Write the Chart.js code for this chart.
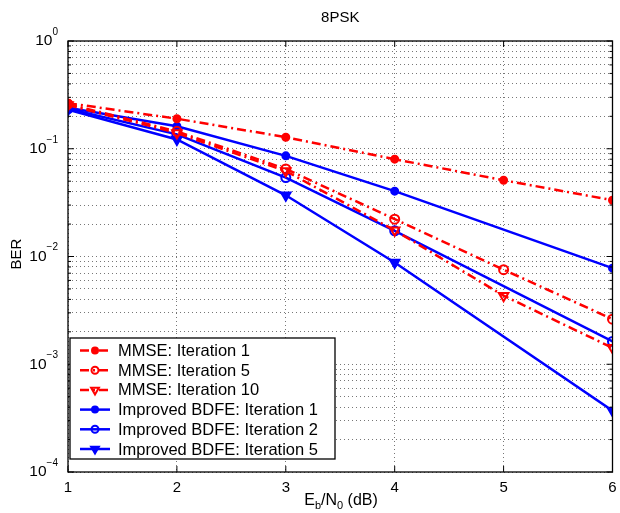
<!DOCTYPE html>
<html><head><meta charset="utf-8">
<script src="https://cdn.jsdelivr.net/npm/chart.js@4"></script>
<style>html,body{margin:0;padding:0;background:#fff}#wrap{width:620px;height:513px}</style>
</head><body><div id="wrap"><canvas id="c" width="620" height="513"></canvas></div>
<script>
const titleText = '8PSK';
const yLabelText = 'BER';
const xTicks = [1, 2, 3, 4, 5, 6];
const yDecades = [-4, -3, -2, -1, 0];
const xMMSE = [1, 2, 3, 4, 5, 6];
const xBDFE = [1, 2, 3, 4, 6];
const mmse1 = [0.265, 0.19, 0.128, 0.080, 0.051, 0.0333];
const mmse5 = [0.26, 0.145, 0.065, 0.0222, 0.00755, 0.00262];
const mmse10 = [0.255, 0.14, 0.062, 0.0175, 0.00433, 0.00142];
const bdfe1 = [0.24, 0.162, 0.0859, 0.0404, 0.0078];
const bdfe2 = [0.235, 0.136, 0.054, 0.0173, 0.00163];
const bdfe5 = [0.23, 0.122, 0.037, 0.0088, 0.00037];
const seriesNames = ['MMSE: Iteration 1', 'MMSE: Iteration 5', 'MMSE: Iteration 10',
  'Improved BDFE: Iteration 1', 'Improved BDFE: Iteration 2', 'Improved BDFE: Iteration 5'];

const RED = '#ff0000', BLUE = '#0000ff';
const FONT = '"Liberation Sans", Arial, Helvetica, sans-serif';
const DASHDOT = [9, 4, 2, 4];

function pts(xs, ys) { return xs.map((x, i) => ({ x: x, y: ys[i] })); }
function ds(name, xs, ys, color, dash, style, filled, r, lr) {
  return {
    label: name, data: pts(xs, ys), borderColor: color, borderWidth: 2.5,
    borderDash: dash, pointStyle: style, pointRotation: style === 'triangle' ? 180 : 0,
    pointRadius: r, legendRadius: lr, pointBorderWidth: 2, pointBorderColor: color,
    pointBackgroundColor: filled ? color : 'rgba(255,255,255,0)', tension: 0, fill: false
  };
}
const datasets = [
  ds(seriesNames[0], xMMSE, mmse1, RED, DASHDOT, 'circle', true, 3.5, 3),
  ds(seriesNames[1], xMMSE, mmse5, RED, DASHDOT, 'circle', false, 4.5, 3.5),
  ds(seriesNames[2], xMMSE, mmse10, RED, DASHDOT, 'triangle', false, 5.5, 4.5),
  ds(seriesNames[3], xBDFE, bdfe1, BLUE, [], 'circle', true, 3.5, 3),
  ds(seriesNames[4], xBDFE, bdfe2, BLUE, [], 'circle', false, 4.5, 3.5),
  ds(seriesNames[5], xBDFE, bdfe5, BLUE, [], 'triangle', true, 5.5, 4.5)
];

function drawMarker(ctx, d, x, y) {
  ctx.save();
  ctx.setLineDash([]);
  Chart.helpers.drawPoint(ctx, {
    pointStyle: d.pointStyle, rotation: d.pointRotation, radius: d.legendRadius,
    borderWidth: d.pointBorderWidth
  }, x, y);
  ctx.restore();
}

const decor = {
  id: 'decor',
  afterDraw(chart) {
    const ctx = chart.ctx, a = chart.chartArea, xs = chart.scales.x, ys = chart.scales.y;
    ctx.save();
    // frame
    ctx.strokeStyle = '#000'; ctx.lineWidth = 1.3; ctx.setLineDash([]);
    ctx.strokeRect(a.left, a.top, a.right - a.left, a.bottom - a.top);
    // inner ticks
    ctx.lineWidth = 1;
    ctx.beginPath();
    xTicks.forEach(v => {
      const px = xs.getPixelForValue(v);
      ctx.moveTo(px, a.bottom); ctx.lineTo(px, a.bottom - 6);
      ctx.moveTo(px, a.top); ctx.lineTo(px, a.top + 6);
    });
    yDecades.forEach(e => {
      for (let m = 1; m <= 9; m++) {
        const v = m * Math.pow(10, e);
        if (v > 1.0000001) break;
        const py = ys.getPixelForValue(v);
        const L = m === 1 ? 6 : 3;
        ctx.moveTo(a.left, py); ctx.lineTo(a.left + L, py);
        ctx.moveTo(a.right, py); ctx.lineTo(a.right - L, py);
      }
    });
    ctx.stroke();
    // tick labels
    ctx.fillStyle = '#000';
    ctx.font = '15px ' + FONT;
    ctx.textAlign = 'center'; ctx.textBaseline = 'middle';
    xTicks.forEach(v => ctx.fillText(String(v), xs.getPixelForValue(v), a.bottom + 16));
    yDecades.forEach(e => {
      const py = ys.getPixelForValue(Math.pow(10, e));
      const exp = e === 0 ? '0' : '\u2212' + String(-e);
      ctx.font = '10px ' + FONT;
      const ew = ctx.measureText(exp).width;
      ctx.textAlign = 'left';
      ctx.textBaseline = 'middle';
      const right = a.left - 10;
      ctx.fillText(exp, right - ew, py - 9);
      ctx.font = '15.5px ' + FONT;
      ctx.textAlign = 'right';
      ctx.fillText('10', right - ew, py);
    });
    // title
    ctx.font = '15px ' + FONT; ctx.textAlign = 'center'; ctx.textBaseline = 'middle';
    ctx.fillText(titleText, (a.left + a.right) / 2, 18);
    // y label
    ctx.save();
    ctx.translate(17, 254);
    ctx.rotate(-Math.PI / 2);
    ctx.font = '15px ' + FONT;
    ctx.fillText(yLabelText, 0, 0);
    ctx.restore();
    // x label E_b/N_0 (dB)
    const parts = [['E', 0, 16], ['b', 5, 11], ['/N', 0, 16], ['0', 5, 11], [' (dB)', 0, 16]];
    let tw = 0;
    parts.forEach(p => { ctx.font = p[2] + 'px ' + FONT; tw += ctx.measureText(p[0]).width; });
    let cx = 341 - tw / 2;
    const by = 501;
    ctx.textAlign = 'left'; ctx.textBaseline = 'middle';
    parts.forEach(p => {
      ctx.font = p[2] + 'px ' + FONT;
      ctx.fillText(p[0], cx, by + p[1]);
      cx += ctx.measureText(p[0]).width;
    });
    // legend
    const lx = 70, ly = 338, lw = 265, lh = 121;
    ctx.fillStyle = '#fff';
    ctx.fillRect(lx, ly, lw, lh);
    ctx.strokeStyle = '#000'; ctx.lineWidth = 1.3;
    ctx.strokeRect(lx, ly, lw, lh);
    chart.data.datasets.forEach((d, i) => {
      const yy = ly + 12.5 + i * 19.7;
      ctx.strokeStyle = d.borderColor; ctx.lineWidth = d.borderWidth;
      ctx.setLineDash(d.borderDash || []);
      ctx.beginPath(); ctx.moveTo(80, yy); ctx.lineTo(110, yy); ctx.stroke();
      ctx.fillStyle = d.pointBackgroundColor; ctx.strokeStyle = d.pointBorderColor;
      ctx.lineWidth = d.pointBorderWidth;
      drawMarker(ctx, d, 95, yy);
      ctx.fillStyle = '#000';
      ctx.font = '16.5px ' + FONT; ctx.textAlign = 'left'; ctx.textBaseline = 'middle';
      ctx.fillText(d.label, 118, yy + 1);
    });
    ctx.restore();
  }
};

new Chart(document.getElementById('c'), {
  type: 'line',
  data: { datasets: datasets },
  options: {
    responsive: false, animation: false, devicePixelRatio: 1,
    layout: { padding: { left: 68, right: 4, top: 41, bottom: 41 } },
    plugins: { legend: { display: false }, title: { display: false }, tooltip: { enabled: false } },
    scales: {
      x: {
        type: 'linear', min: 1, max: 6,
        afterBuildTicks: s => { s.ticks = xTicks.map(v => ({ value: v })); },
        ticks: { display: false },
        grid: { color: '#777', lineWidth: 1, drawTicks: false },
        border: { display: false, dash: [1, 3] }
      },
      y: {
        type: 'logarithmic', min: 1e-4, max: 1,
        afterBuildTicks: s => {
          const t = [];
          yDecades.forEach(e => { for (let m = 1; m <= 9; m++) { const v = m * Math.pow(10, e); if (v <= 1.0000001) t.push({ value: v }); } });
          s.ticks = t;
        },
        ticks: { display: false },
        grid: { color: '#777', lineWidth: 1, drawTicks: false },
        border: { display: false, dash: [1, 3] }
      }
    }
  },
  plugins: [decor]
});
</script></body></html>
